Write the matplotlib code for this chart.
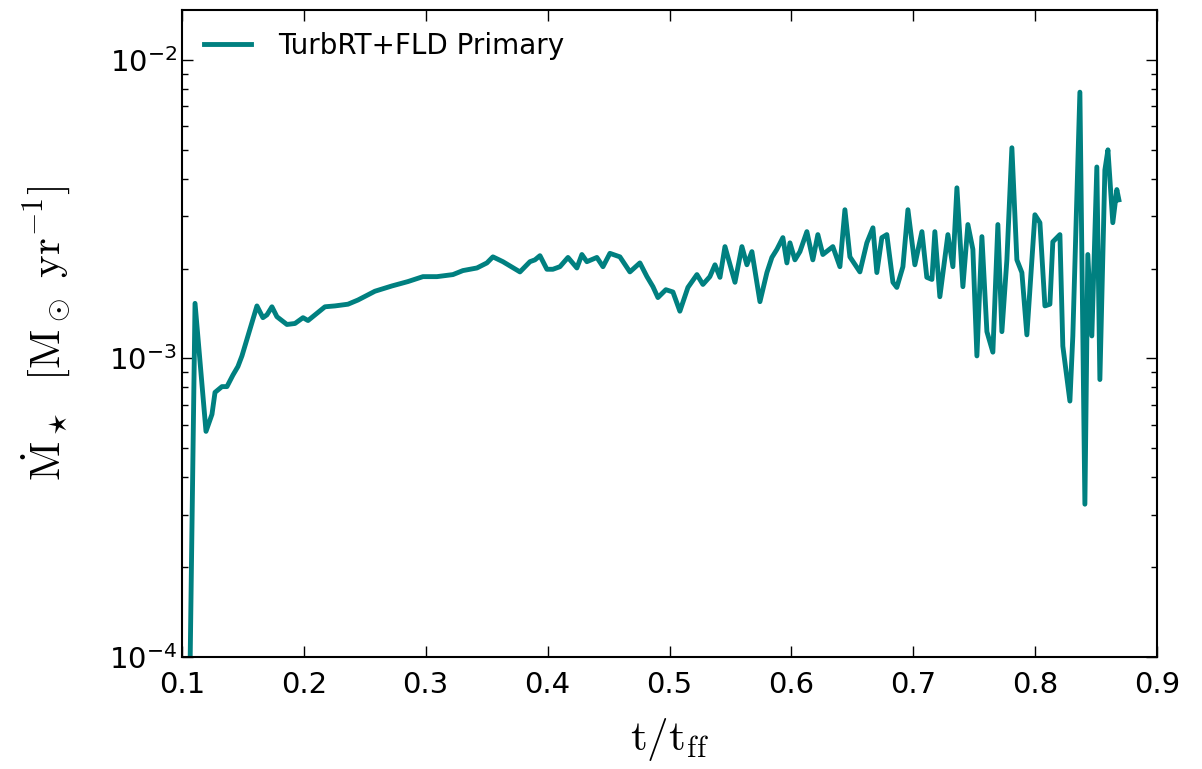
import matplotlib
matplotlib.use("Agg")
import matplotlib.pyplot as plt
import numpy as np

plt.rcParams['mathtext.fontset'] = 'cm'
plt.rcParams['axes.unicode_minus'] = False

# accretion rate of the primary
t = [0.1060, 0.1107, 0.1197, 0.1246, 0.1271, 0.1328, 0.1369, 0.1418, 0.1459, 0.1492,
     0.1533, 0.1615, 0.1664, 0.1697, 0.1738, 0.1779, 0.1861, 0.1927, 0.1993, 0.2034,
     0.2091, 0.2173, 0.2255, 0.2362, 0.2444, 0.2583, 0.2723, 0.2854, 0.2977, 0.3092,
     0.3223, 0.3305, 0.3420, 0.3502, 0.3551, 0.3633, 0.3773, 0.3855, 0.3896, 0.3937,
     0.3994, 0.4043, 0.4101, 0.4167, 0.4240, 0.4281, 0.4322, 0.4404, 0.4454, 0.4511,
     0.4593, 0.4675, 0.4757, 0.4815, 0.4864, 0.4905, 0.4970, 0.5028, 0.5085, 0.5151,
     0.5225, 0.5274, 0.5331, 0.5373, 0.5414, 0.5455, 0.5537, 0.5594, 0.5635, 0.5676,
     0.5742, 0.5799, 0.5840, 0.5881, 0.5930, 0.5963, 0.5988, 0.6029, 0.6070, 0.6127,
     0.6176, 0.6217, 0.6258, 0.6340, 0.6398, 0.6439, 0.6480, 0.6562, 0.6619, 0.6669,
     0.6701, 0.6742, 0.6783, 0.6833, 0.6865, 0.6915, 0.6956, 0.7013, 0.7071, 0.7111,
     0.7153, 0.7177, 0.7218, 0.7284, 0.7325, 0.7358, 0.7407, 0.7448, 0.7489, 0.7522,
     0.7563, 0.7604, 0.7653, 0.7694, 0.7727, 0.7768, 0.7809, 0.7850, 0.7891, 0.7932,
     0.7998, 0.8039, 0.8080, 0.8121, 0.8145, 0.8203, 0.8227, 0.8285, 0.8309, 0.8367,
     0.8408, 0.8432, 0.8465, 0.8506, 0.8531, 0.8572, 0.8597, 0.8637, 0.8670, 0.8687]
mdot = [6e-5, 1.53e-3, 5.7e-4, 6.5e-4, 7.7e-4, 8.05e-4, 8.05e-4, 8.8e-4, 9.4e-4, 1.02e-3,
        1.16e-3, 1.50e-3, 1.37e-3, 1.40e-3, 1.49e-3, 1.38e-3, 1.30e-3, 1.31e-3, 1.37e-3, 1.34e-3,
        1.40e-3, 1.49e-3, 1.50e-3, 1.52e-3, 1.57e-3, 1.68e-3, 1.75e-3, 1.81e-3, 1.88e-3, 1.88e-3,
        1.91e-3, 1.97e-3, 2.01e-3, 2.09e-3, 2.19e-3, 2.11e-3, 1.95e-3, 2.11e-3, 2.14e-3, 2.21e-3,
        1.99e-3, 1.99e-3, 2.03e-3, 2.18e-3, 2.01e-3, 2.23e-3, 2.11e-3, 2.18e-3, 2.03e-3, 2.25e-3,
        2.19e-3, 1.95e-3, 2.09e-3, 1.88e-3, 1.74e-3, 1.60e-3, 1.70e-3, 1.67e-3, 1.44e-3, 1.73e-3,
        1.91e-3, 1.77e-3, 1.88e-3, 2.06e-3, 1.87e-3, 2.37e-3, 1.80e-3, 2.37e-3, 2.06e-3, 2.28e-3,
        1.55e-3, 1.94e-3, 2.18e-3, 2.32e-3, 2.54e-3, 2.09e-3, 2.44e-3, 2.14e-3, 2.28e-3, 2.66e-3,
        2.14e-3, 2.60e-3, 2.23e-3, 2.37e-3, 2.03e-3, 3.15e-3, 2.19e-3, 1.95e-3, 2.44e-3, 2.74e-3,
        1.94e-3, 2.54e-3, 2.60e-3, 1.80e-3, 1.73e-3, 2.03e-3, 3.15e-3, 2.06e-3, 2.66e-3, 1.87e-3,
        1.84e-3, 2.66e-3, 1.61e-3, 2.60e-3, 2.03e-3, 3.73e-3, 1.74e-3, 2.81e-3, 2.32e-3, 1.02e-3,
        2.56e-3, 1.23e-3, 1.05e-3, 2.81e-3, 1.23e-3, 2.14e-3, 5.08e-3, 2.14e-3, 1.94e-3, 1.20e-3,
        3.03e-3, 2.85e-3, 1.50e-3, 1.52e-3, 2.46e-3, 2.60e-3, 1.10e-3, 7.2e-4, 1.19e-3, 7.8e-3,
        3.25e-4, 2.23e-3, 1.19e-3, 4.38e-3, 8.5e-4, 4.28e-3, 5.0e-3, 2.85e-3, 3.68e-3, 3.40e-3]

fig = plt.figure(figsize=(12.02, 7.69), dpi=100)
ax = fig.add_axes([0.1514, 0.1456, 0.8112, 0.8414])

ax.plot(t, mdot, color='#008080', lw=3.5, label='TurbRT+FLD Primary')
ax.set_yscale('log')
ax.set_xlim(0.1, 0.9)
ax.set_ylim(1e-4, 1.47e-2)
ax.set_xticks(np.arange(0.1, 0.91, 0.1))
ax.set_xticklabels(['0.1', '0.2', '0.3', '0.4', '0.5', '0.6', '0.7', '0.8', '0.9'])

ax.tick_params(which='both', direction='in', top=True, right=True, labelsize=21)
ax.tick_params(which='major', length=8, width=1)
ax.tick_params(which='minor', length=4, width=1)
ax.tick_params(axis='x', pad=10)
for s in ax.spines.values():
    s.set_linewidth(1.5)

ax.set_xlabel(r'$\rm t/t_{ff}$', fontsize=31, labelpad=12)
ax.set_ylabel(r'$\dot{\rm M}_\star\ \ [{\rm M_\odot\ yr^{-1}}]$', fontsize=31, labelpad=26)

ax.legend(loc='upper left', frameon=False, fontsize=20, handlelength=1.7,
          handletextpad=0.95, borderaxespad=0.4)

fig.savefig('out.png', dpi=100)
